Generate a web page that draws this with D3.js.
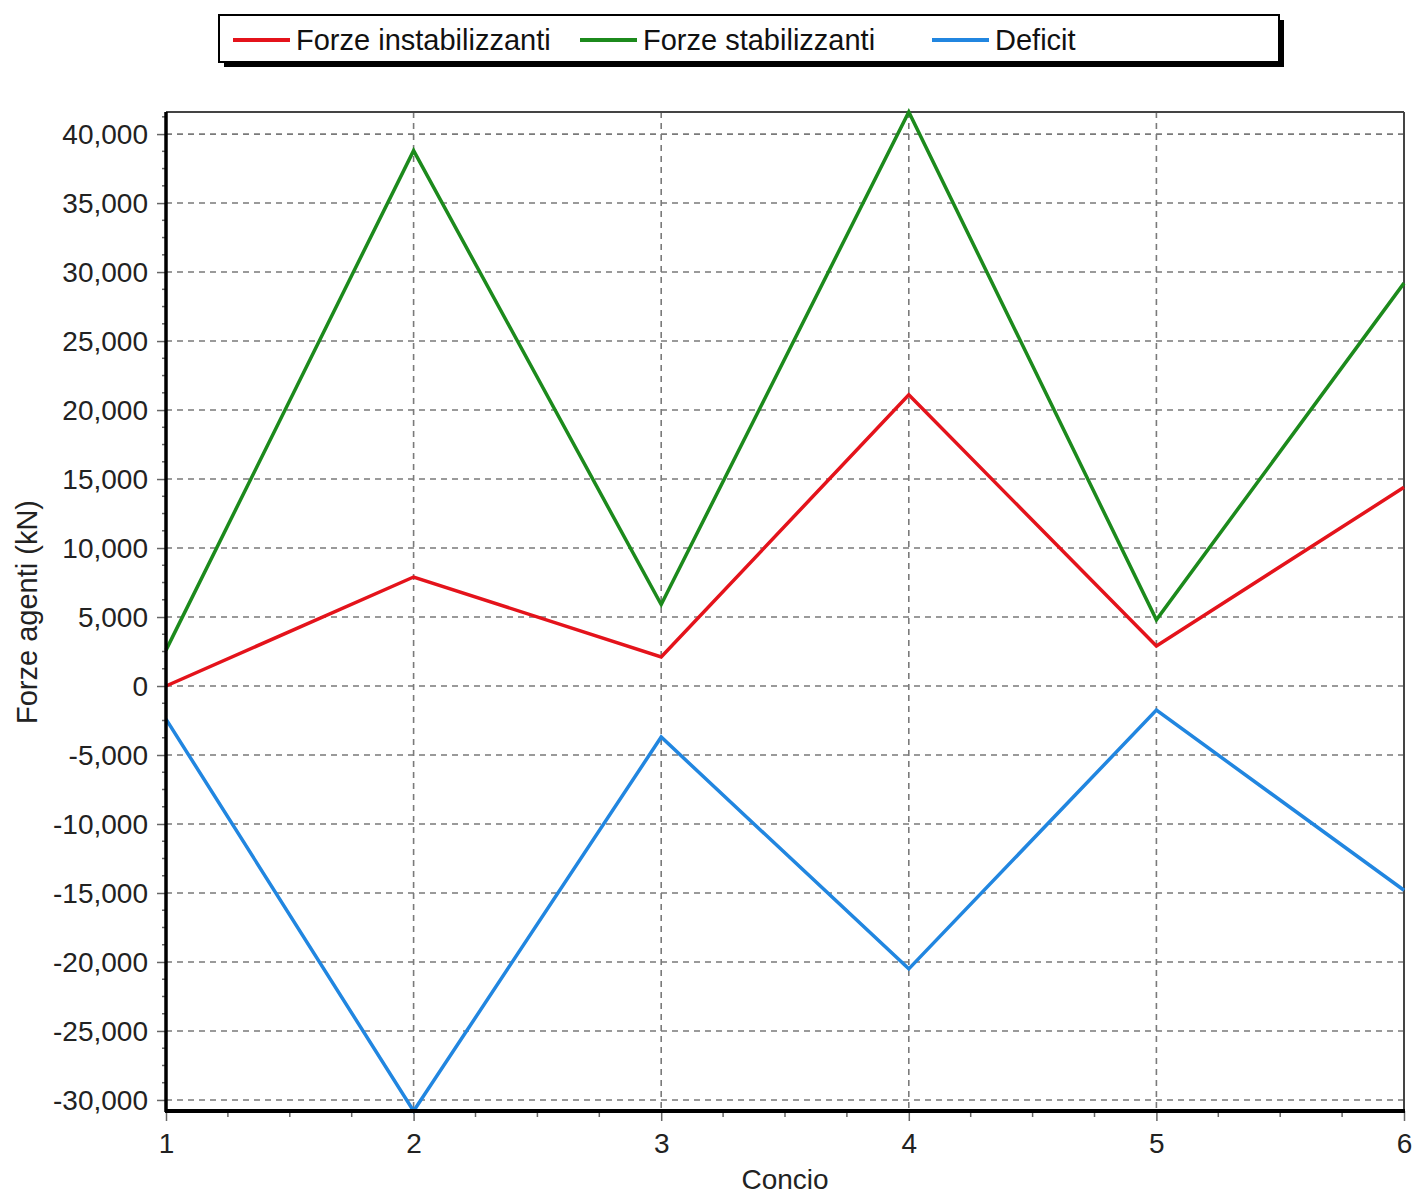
<!DOCTYPE html>
<html><head><meta charset="utf-8">
<script src="https://cdn.jsdelivr.net/npm/d3@7"></script>
<style>html,body{margin:0;padding:0;background:#fff;}svg{display:block;font-family:"Liberation Sans",Arial,sans-serif;}</style>
</head><body>
<svg id="c" width="1412" height="1195"></svg>
<script>
const conci = [1, 2, 3, 4, 5, 6];
const instabilizzanti = [0, 7900, 2100, 21100, 2900, 14400];
const stabilizzanti = [2600, 38800, 5900, 41600, 4800, 29200];
const deficit = [-2400, -30800, -3700, -20500, -1750, -14800];
const yTicks = [-30000, -25000, -20000, -15000, -10000, -5000, 0, 5000, 10000, 15000, 20000, 25000, 30000, 35000, 40000];
const seriesNames = ["Forze instabilizzanti", "Forze stabilizzanti", "Deficit"];
const seriesColors = ["#e4131b", "#1c8a1c", "#2186e0"];

const svg = d3.select("#c");
const L = 166, R = 1404, T = 112, B = 1111;
const x = d3.scaleLinear().domain([1, 6]).range([L, R]);
const y = d3.scaleLinear().domain([-30800, 41600]).range([B, T]);
const fmt = d => d3.format(",")(d).replace("\u2212", "-");

// grid
const g = svg.append("g");
g.selectAll(".hg").data(yTicks).join("line")
  .attr("x1", L).attr("x2", R).attr("y1", d => y(d)).attr("y2", d => y(d))
  .attr("stroke", "#7a7a7a").attr("stroke-width", 1.6).attr("stroke-dasharray", "6,5");
g.selectAll(".vg").data(conci.slice(1, 5)).join("line")
  .attr("x1", d => x(d)).attr("x2", d => x(d)).attr("y1", T).attr("y2", B)
  .attr("stroke", "#7a7a7a").attr("stroke-width", 1.6).attr("stroke-dasharray", "6,5");

// frame top/right
svg.append("line").attr("x1", L).attr("x2", R).attr("y1", T).attr("y2", T).attr("stroke", "#444").attr("stroke-width", 2);
svg.append("line").attr("x1", R).attr("x2", R).attr("y1", T).attr("y2", B).attr("stroke", "#444").attr("stroke-width", 2);

// series
const data = [instabilizzanti, stabilizzanti, deficit];
const line = d3.line().x((d, i) => x(conci[i])).y(d => y(d));
data.forEach((s, k) => {
  svg.append("path").attr("d", line(s)).attr("fill", "none")
    .attr("stroke", seriesColors[k]).attr("stroke-width", 3.5).attr("stroke-linejoin", "miter");
});

// axes
const yAxis = d3.axisLeft(y).tickValues(yTicks).tickFormat(fmt).tickSize(9).tickPadding(9);
const ya = svg.append("g").attr("transform", `translate(${L},0)`).call(yAxis);
ya.select(".domain").remove();
ya.selectAll("text").attr("font-size", 28).attr("fill", "#222").attr("dy", "0.35em");
ya.selectAll(".tick line").attr("stroke", "#666").attr("stroke-width", 1.5);
const yMinor = d3.range(-30000, 41600, 1250).filter(v => v % 5000 !== 0);
svg.append("g").selectAll("line").data(yMinor).join("line")
  .attr("x1", L - 4).attr("x2", L).attr("y1", d => y(d)).attr("y2", d => y(d)).attr("stroke", "#666").attr("stroke-width", 1.5);

const xAxis = d3.axisBottom(x).tickValues(conci).tickFormat(d3.format("d")).tickSize(10).tickPadding(12);
const xa = svg.append("g").attr("transform", `translate(0,${B})`).call(xAxis);
xa.select(".domain").remove();
xa.selectAll("text").attr("font-size", 28).attr("fill", "#222");
xa.selectAll(".tick line").attr("stroke", "#666").attr("stroke-width", 1.5);
const xMinor = d3.range(1, 6, 0.25).filter(v => v % 1 !== 0);
svg.append("g").selectAll("line").data(xMinor).join("line")
  .attr("x1", d => x(d)).attr("x2", d => x(d)).attr("y1", B).attr("y2", B + 6).attr("stroke", "#666").attr("stroke-width", 1.5);

svg.append("line").attr("x1", L).attr("x2", L).attr("y1", T).attr("y2", B + 1).attr("stroke", "#000").attr("stroke-width", 3.5);
svg.append("line").attr("x1", L - 1).attr("x2", R + 1).attr("y1", B).attr("y2", B).attr("stroke", "#000").attr("stroke-width", 4);

// axis titles
svg.append("text").attr("x", 785).attr("y", 1189).attr("text-anchor", "middle").attr("font-size", 28).attr("fill", "#222").text("Concio");
svg.append("text").attr("transform", "translate(37,612) rotate(-90)").attr("text-anchor", "middle").attr("font-size", 29).attr("fill", "#222").text("Forze agenti (kN)");

// legend
const lg = svg.append("g");
lg.append("rect").attr("x", 224).attr("y", 20).attr("width", 1060).attr("height", 47).attr("fill", "#000");
lg.append("rect").attr("x", 219).attr("y", 15).attr("width", 1060).attr("height", 47).attr("fill", "#fff").attr("stroke", "#000").attr("stroke-width", 2);
const legX = [233, 580, 932];
seriesNames.forEach((n, k) => {
  lg.append("line").attr("x1", legX[k]).attr("x2", legX[k] + 57).attr("y1", 40).attr("y2", 40).attr("stroke", seriesColors[k]).attr("stroke-width", 4);
  lg.append("text").attr("x", legX[k] + 63).attr("y", 50).attr("font-size", 29).attr("fill", "#111").text(n);
});
</script>
</body></html>
